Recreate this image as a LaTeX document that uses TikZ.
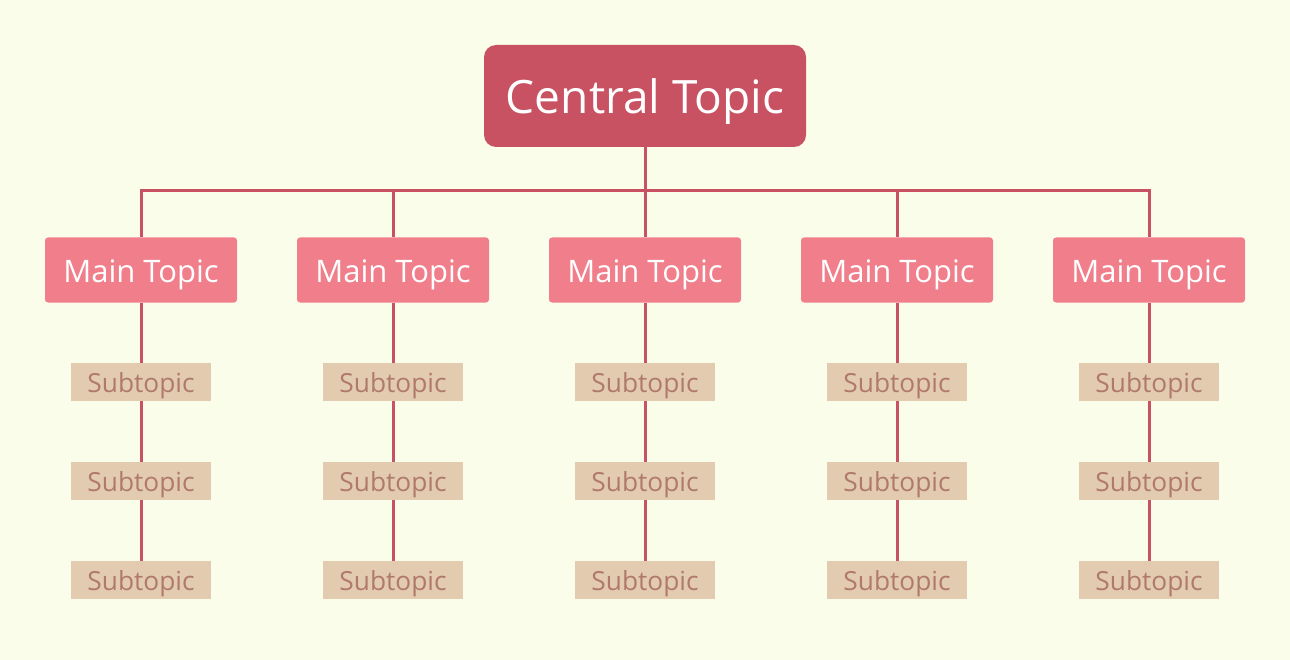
\documentclass[tikz,border=0pt]{standalone}
\usepackage{fontspec}
\setmainfont{Open Sans}
\usepackage{xcolor}
\usetikzlibrary{positioning,calc}
\definecolor{bgcol}{HTML}{FAFDEA}
\definecolor{centralcol}{HTML}{C85262}
\definecolor{maincol}{HTML}{F07F8B}
\definecolor{subcol}{HTML}{E3CBB0}
\definecolor{subtext}{HTML}{B07A6A}

% text lowered onto a fixed baseline below the node centre
\newcommand{\boxtext}[2]{\raisebox{-#1}[0pt][0pt]{#2}}

\tikzset{
  central/.style={fill=centralcol, text=white, rounded corners=12pt,
    minimum width=322pt, minimum height=102pt, inner sep=0pt,
    font=\fontsize{46}{54}\selectfont},
  maintopic/.style={fill=maincol, text=white, rounded corners=3pt,
    minimum width=192pt, minimum height=65pt, inner sep=0pt,
    font=\fontsize{31}{36}\selectfont},
  subtopic/.style={fill=subcol, text=subtext,
    minimum width=140pt, minimum height=38pt, inner sep=0pt,
    font=\fontsize{26.3}{30}\selectfont},
  link/.style={draw=centralcol, line width=3pt}
}

\begin{document}
\begin{tikzpicture}[x=1pt, y=-1pt]
  % Background
  \fill[bgcol] (0,0) rectangle (1290,660);
  \useasboundingbox (0,0) rectangle (1290,660);

  % Central topic
  \node[central] (central) at (645,96) {\boxtext{18pt}{Central Topic}};
  \coordinate (bus) at (645,191);
  \draw[link] (central.south) -- (bus);

  % Main topics with their subtopics
  \foreach \i/\x in {1/141, 2/393, 3/645, 4/897, 5/1149} {
    \node[maintopic] (main\i) at (\x,270) {\boxtext{12.5pt}{Main Topic}};
    \node[subtopic] (sub\i a) at (\x,382) {\boxtext{10.5pt}{Subtopic}};
    \node[subtopic] (sub\i b) at (\x,481) {\boxtext{10.5pt}{Subtopic}};
    \node[subtopic] (sub\i c) at (\x,580) {\boxtext{10.5pt}{Subtopic}};
    \draw[link] (bus) -| (main\i.north);
    \draw[link] (main\i.south) -- (sub\i a.north);
    \draw[link] (sub\i a.south) -- (sub\i b.north);
    \draw[link] (sub\i b.south) -- (sub\i c.north);
  }
\end{tikzpicture}
\end{document}
